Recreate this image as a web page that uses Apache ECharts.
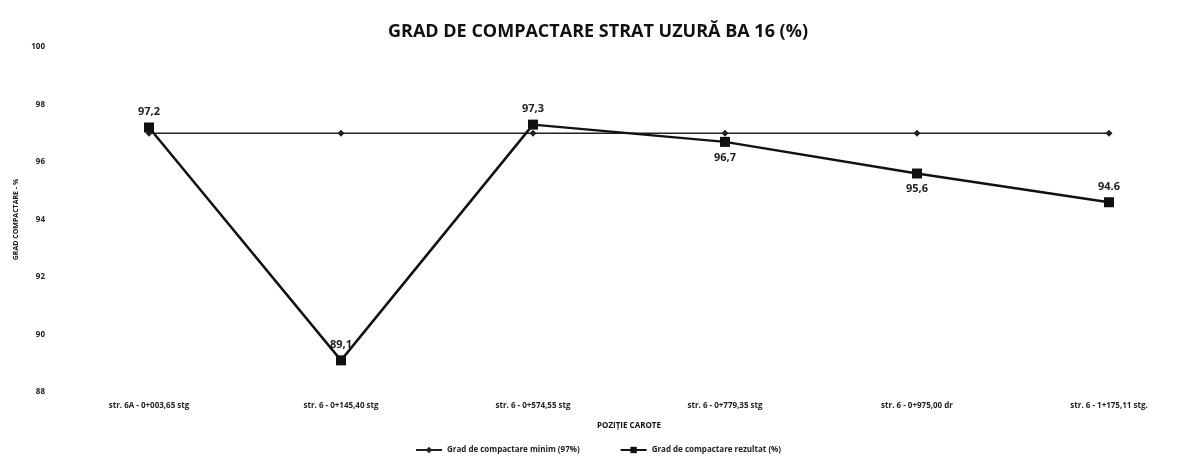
<!DOCTYPE html>
<html>
<head>
<meta charset="utf-8">
<script src="https://cdn.jsdelivr.net/npm/echarts@6/dist/echarts.min.js"></script>
<style>
  html, body { margin: 0; padding: 0; background: #fff; }
  #chart { width: 1196px; height: 463px; }
</style>
</head>
<body>
<div id="chart"></div>
<script>
// pozitii carote
var categories = ['str. 6A - 0+003,65 stg', 'str. 6 - 0+145,40 stg', 'str. 6 - 0+574,55 stg',
  'str. 6 - 0+779,35 stg', 'str. 6 - 0+975,00 dr', 'str. 6 - 1+175,11 stg.'];
// prag minim 97%
var minValues = [97, 97, 97, 97, 97, 97];
// grad de compactare rezultat
var resValues = [97.2, 89.1, 97.3, 96.7, 95.6, 94.6];
var resLabels = ['97,2', '89,1', '97,3', '96,7', '95,6', '94.6'];
var yTicks = [88, 90, 92, 94, 96, 98, 100];

var labelPos = ['top', 'top', 'top', 'bottom', 'bottom', 'top'];

var chart = echarts.init(document.getElementById('chart'));
var font = '"Open Sans", "DejaVu Sans", sans-serif';

var option = {
  backgroundColor: '#ffffff',
  animation: false,
  title: {
    text: 'GRAD DE COMPACTARE STRAT UZURĂ BA 16 (%)',
    left: 'center',
    top: 18,
    textStyle: { fontFamily: font, fontSize: 18, fontWeight: 'bold', color: '#111' }
  },
  legend: {
    bottom: 4,
    left: 'center',
    itemWidth: 26,
    itemHeight: 8,
    itemGap: 40,
    textStyle: { fontFamily: font, fontSize: 8, fontWeight: 'bold', color: '#222' },
    data: ['Grad de compactare minim (97%)', 'Grad de compactare rezultat (%)']
  },
  grid: { left: 149, right: 87, top: 47, bottom: 71 },
  xAxis: {
    type: 'category',
    boundaryGap: false,
    data: categories,
    name: 'POZIȚIE CAROTE',
    nameLocation: 'middle',
    nameGap: 30,
    nameTextStyle: { fontFamily: font, fontSize: 8, fontWeight: 'bold', color: '#111' },
    axisLine: { show: false },
    axisTick: { show: false },
    axisLabel: { margin: 10, fontFamily: font, fontSize: 8, fontWeight: 'bold', color: '#222' }
  },
  yAxis: {
    type: 'value',
    min: yTicks[0],
    max: yTicks[yTicks.length - 1],
    interval: 2,
    name: 'GRAD COMPACTARE - %',
    nameLocation: 'middle',
    nameGap: 130,
    nameTextStyle: { fontFamily: font, fontSize: 7, fontWeight: 'bold', color: '#111' },
    axisLine: { show: false },
    axisTick: { show: false },
    splitLine: { show: false },
    axisLabel: { margin: 104, align: 'right', fontFamily: font, fontSize: 8, fontWeight: 'bold', color: '#222' }
  },
  series: [
    {
      name: 'Grad de compactare minim (97%)',
      type: 'line',
      data: minValues,
      symbol: 'diamond',
      symbolSize: 7,
      z: 2,
      lineStyle: { color: '#222', width: 1.5 },
      itemStyle: { color: '#222' }
    },
    {
      name: 'Grad de compactare rezultat (%)',
      type: 'line',
      data: resValues.map(function (v, i) {
        return {
          value: v,
          label: { position: labelPos[i], formatter: resLabels[i] }
        };
      }),
      symbol: 'rect',
      symbolSize: 10,
      z: 3,
      lineStyle: { color: '#111', width: 2.5 },
      itemStyle: { color: '#111' },
      label: {
        show: true,
        distance: 5,
        fontFamily: font,
        fontSize: 11,
        fontWeight: 'bold',
        color: '#222'
      }
    }
  ]
};

chart.setOption(option);
</script>
</body>
</html>
